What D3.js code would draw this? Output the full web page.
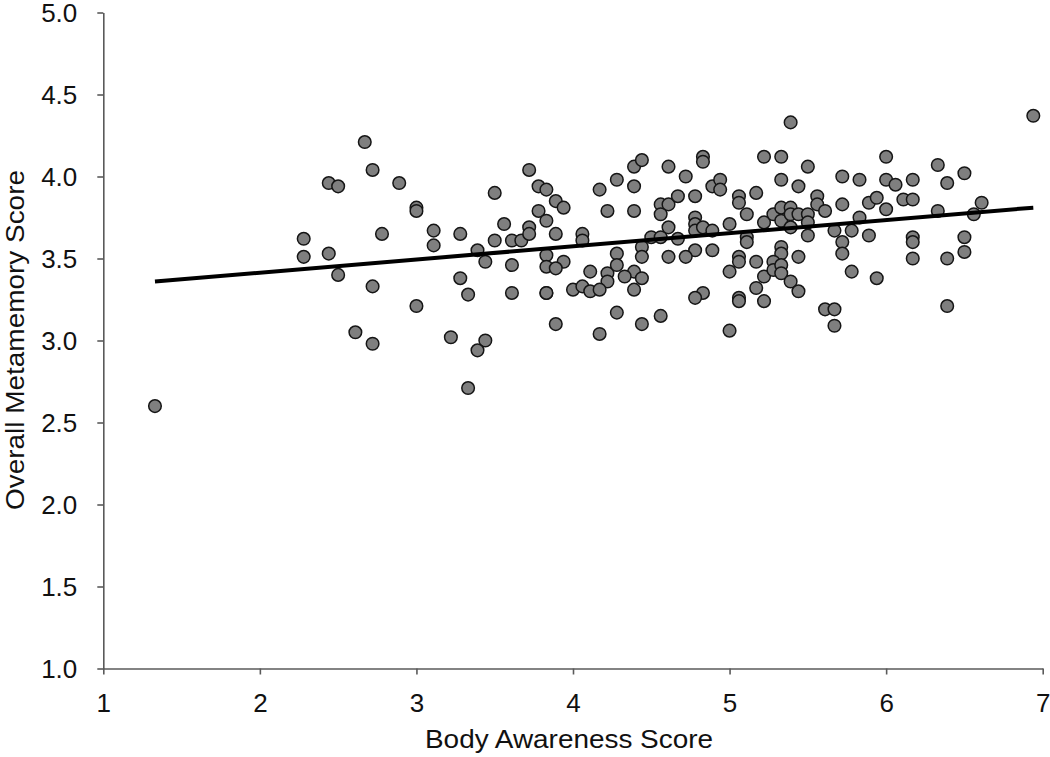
<!DOCTYPE html>
<html>
<head>
<meta charset="utf-8">
<script src="https://cdn.jsdelivr.net/npm/d3@7"></script>
<style>
  html, body { margin: 0; padding: 0; background: #fff; }
  svg { display: block; }
  text { font-family: "Liberation Sans", Arial, sans-serif; fill: #111; }
</style>
</head>
<body>
<svg id="chart" width="1050" height="757"></svg>
<script>
// ---- data ----
const bodyAwareness = [
  1.33, 2.28, 2.28, 2.44, 2.50, 2.44, 2.50, 2.67, 2.72, 2.72, 2.61, 2.72, 2.78, 2.89, 3.00, 3.00, 3.00,
  3.11, 3.11, 3.28, 3.39, 3.44, 3.50, 3.50, 3.56, 3.61, 3.67, 3.72, 3.72, 3.72, 3.78, 3.83, 3.89, 3.94,
  3.78, 3.83, 3.89, 4.06, 4.06, 3.83, 3.94, 4.17, 4.22, 3.28, 3.33, 3.22, 3.44, 3.39, 3.33, 3.61, 3.61,
  3.83, 3.83, 3.89, 3.83, 3.89, 4.11, 4.22, 4.22, 4.00, 4.06, 4.11, 4.17, 4.17,
  5.39, 4.28, 4.39, 4.44, 4.39, 4.39, 4.28, 4.44, 4.44, 4.50, 4.56, 4.56, 4.56, 4.61, 4.61, 4.61, 4.67,
  4.67, 4.72, 4.78, 4.78, 4.78, 4.78, 4.83, 4.83, 4.83, 4.89, 4.89, 4.94, 4.94, 5.00, 5.06, 5.06, 5.11,
  5.11, 5.11, 5.17, 5.22, 5.22, 5.28, 5.33, 5.33, 5.33, 5.33, 5.39, 5.39, 5.39, 5.44, 5.44, 5.50, 5.50,
  5.50, 5.50, 5.56, 5.56, 5.61, 5.67, 5.72, 5.72, 5.72, 5.72, 5.33, 5.33, 4.89, 4.78, 4.61, 4.72, 5.06,
  5.06, 5.17, 5.28, 5.44, 4.28, 4.39, 4.33, 4.44, 4.39, 4.28, 4.44, 4.56, 4.83, 4.78, 5.00, 5.06, 5.06,
  5.00, 5.17, 5.22, 5.22, 5.28, 5.33, 5.33, 5.39, 5.44, 5.61, 5.67, 5.67, 5.78,
  6.94, 5.83, 5.83, 5.78, 5.89, 5.89, 5.94, 6.00, 6.00, 6.00, 6.06, 6.11, 6.17, 6.17, 6.17, 6.17, 6.17,
  6.33, 6.33, 6.39, 6.39, 6.50, 6.50, 6.50, 6.56, 6.61, 5.94, 6.39
];
const metamemory = [
  2.60, 3.62, 3.51, 3.96, 3.94, 3.53, 3.40, 4.21, 4.04, 3.33, 3.05, 2.98, 3.65, 3.96, 3.81, 3.79, 3.21,
  3.67, 3.58, 3.65, 3.55, 3.48, 3.90, 3.61, 3.71, 3.61, 3.61, 3.69, 3.65, 4.04, 3.94, 3.92, 3.85, 3.81,
  3.79, 3.73, 3.65, 3.65, 3.61, 3.52, 3.48, 3.92, 3.79, 3.38, 3.28, 3.02, 3.00, 2.94, 2.71, 3.46, 3.29,
  3.45, 3.29, 3.44, 3.29, 3.10, 3.42, 3.41, 3.36, 3.31, 3.33, 3.30, 3.31, 3.04,
  4.33, 3.98, 4.06, 4.10, 3.94, 3.79, 3.53, 3.57, 3.51, 3.63, 3.63, 3.83, 3.77, 3.69, 3.83, 4.06, 3.88,
  3.62, 4.00, 3.88, 3.75, 3.71, 3.67, 4.12, 4.09, 3.69, 3.67, 3.94, 3.98, 3.92, 3.71, 3.88, 3.84, 3.77,
  3.63, 3.60, 3.90, 4.12, 3.72, 3.77, 4.12, 3.98, 3.81, 3.73, 3.81, 3.77, 3.69, 3.94, 3.77, 4.06, 3.77,
  3.72, 3.64, 3.88, 3.83, 3.79, 3.67, 4.00, 3.83, 3.60, 3.53, 3.57, 3.53, 3.55, 3.55, 3.51, 3.51, 3.51,
  3.48, 3.48, 3.48, 3.51, 3.46, 3.42, 3.39, 3.38, 3.31, 3.17, 3.10, 3.15, 3.29, 3.26, 3.42, 3.26, 3.24,
  3.06, 3.32, 3.39, 3.24, 3.43, 3.46, 3.41, 3.36, 3.30, 3.19, 3.19, 3.09, 3.42,
  4.37, 3.98, 3.75, 3.67, 3.84, 3.64, 3.87, 4.12, 3.98, 3.80, 3.95, 3.86, 3.86, 3.98, 3.63, 3.60, 3.50,
  4.07, 3.79, 3.96, 3.50, 4.02, 3.63, 3.54, 3.77, 3.84, 3.38, 3.21
];
const trendX = [1.33, 6.94];
const trendY = [3.36, 3.81];
const xTicks = [1, 2, 3, 4, 5, 6, 7];
const yTicks = [1.0, 1.5, 2.0, 2.5, 3.0, 3.5, 4.0, 4.5, 5.0];
const xTitle = "Body Awareness Score";
const yTitle = "Overall Metamemory Score";

// ---- chart ----
const svg = d3.select("#chart");
const x = d3.scaleLinear().domain([1, 7]).range([103.3, 1042.7]);
const y = d3.scaleLinear().domain([1, 5]).range([668.5, 12.5]);
const axisColor = "#5a5a5a";
const fs = 26;

// x axis
const gx = svg.append("g")
  .attr("transform", `translate(0,${y(1)})`)
  .call(d3.axisBottom(x).tickValues(xTicks).tickFormat(d3.format("d")).tickSizeOuter(0).tickSizeInner(6).tickPadding(19));
gx.select(".domain").attr("stroke", axisColor).attr("stroke-width", 1.6);
gx.selectAll(".tick line").attr("stroke", axisColor).attr("stroke-width", 1.6);
gx.selectAll(".tick text").attr("font-size", fs).attr("font-family", "Liberation Sans, Arial, sans-serif").attr("fill", "#111");

// y axis
const gy = svg.append("g")
  .attr("transform", `translate(${x(1)},0)`)
  .call(d3.axisLeft(y).tickValues(yTicks).tickFormat(d3.format(".1f")).tickSizeOuter(0).tickSizeInner(6).tickPadding(20));
gy.select(".domain").attr("stroke", axisColor).attr("stroke-width", 1.6);
gy.selectAll(".tick line").attr("stroke", axisColor).attr("stroke-width", 1.6);
gy.selectAll(".tick text").attr("font-size", fs).attr("font-family", "Liberation Sans, Arial, sans-serif").attr("fill", "#111")
  .attr("dy", "0.36em");

// points
const pts = bodyAwareness.map((v, i) => ({ bx: v, my: metamemory[i] }));
svg.append("g").selectAll("circle")
  .data(pts)
  .enter().append("circle")
  .attr("cx", d => x(d.bx))
  .attr("cy", d => y(d.my))
  .attr("r", 6.3)
  .attr("fill", "#7f7f7f")
  .attr("stroke", "#151515")
  .attr("stroke-width", 1.5);

// trend line
const line = d3.line().x(d => x(d[0])).y(d => y(d[1]));
svg.append("path")
  .datum(trendX.map((v, i) => [v, trendY[i]]))
  .attr("d", line)
  .attr("fill", "none")
  .attr("stroke", "#000")
  .attr("stroke-width", 4);

// titles
svg.append("text")
  .attr("x", 569)
  .attr("y", 748)
  .attr("text-anchor", "middle")
  .attr("font-size", fs)
  .attr("textLength", 288)
  .attr("lengthAdjust", "spacingAndGlyphs")
  .text(xTitle);

svg.append("text")
  .attr("transform", `translate(24,340) rotate(-90)`)
  .attr("text-anchor", "middle")
  .attr("font-size", fs)
  .attr("textLength", 340)
  .attr("lengthAdjust", "spacingAndGlyphs")
  .text(yTitle);
</script>
</body>
</html>
